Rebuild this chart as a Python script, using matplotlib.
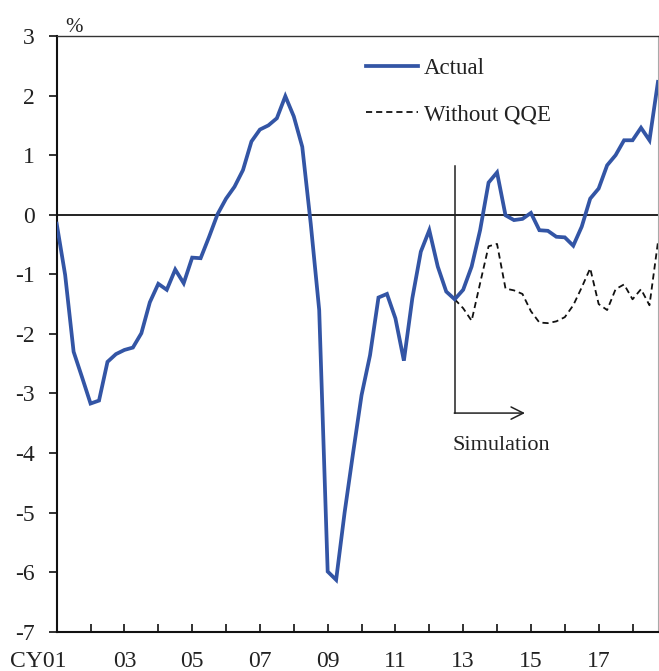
import matplotlib
matplotlib.use("Agg")
import matplotlib.pyplot as plt
import matplotlib.transforms as mtransforms
import numpy as np

plt.rcParams['font.family'] = ['Liberation Serif', 'DejaVu Serif']

# Quarterly data, 2001Q1 .. 2018Q4
actual = [-0.15, -1.01, -2.30, -2.73, -3.17, -3.12, -2.47, -2.34,
          -2.27, -2.23, -1.99, -1.47, -1.16, -1.26, -0.92, -1.15,
          -0.72, -0.73, -0.37, 0.01, 0.27, 0.47, 0.75, 1.23,
          1.43, 1.50, 1.62, 1.99, 1.65, 1.14, -0.15, -1.60,
          -5.99, -6.13, -5.00, -4.00, -3.03, -2.36, -1.39, -1.33,
          -1.74, -2.45, -1.40, -0.62, -0.26, -0.87, -1.29, -1.42,
          -1.26, -0.87, -0.26, 0.54, 0.71, -0.01, -0.09, -0.07,
          0.03, -0.26, -0.27, -0.37, -0.38, -0.52, -0.20, 0.27,
          0.44, 0.83, 1.00, 1.25, 1.25, 1.46, 1.25, 2.23]
sim_start = 47  # 2012Q4
without_qqe = [-1.42, -1.57, -1.78, -1.15, -0.53, -0.49, -1.24, -1.27,
               -1.33, -1.62, -1.81, -1.82, -1.79, -1.72, -1.52, -1.22,
               -0.90, -1.50, -1.60, -1.25, -1.17, -1.42, -1.25, -1.52,
               -0.46]
year_labels = ['CY01', '', '03', '', '05', '', '07', '', '09', '',
               '11', '', '13', '', '15', '', '17', '']
y_ticks = [3, 2, 1, 0, -1, -2, -3, -4, -5, -6, -7]

x_act = np.arange(len(actual))
x_sim = np.arange(sim_start, sim_start + len(without_qqe))

fig = plt.figure(figsize=(6.59, 6.71), dpi=100)
ax = fig.add_axes([0.086, 0.0586, 0.9124, 0.8877])

text_color = '#222222'
blue = '#3355a5'

ax.axhline(0, color='#111111', lw=1.3, zorder=1)
ax.plot(x_act, actual, color=blue, lw=2.7, solid_joinstyle='miter', label='Actual', zorder=3)
ax.plot(x_sim, without_qqe, color='#111111', lw=1.3, ls=(0, (3.4, 2.2)), label='Without QQE', zorder=2)

# simulation marker
ax.plot([sim_start, sim_start], [0.82, -3.33], color='#222222', lw=1.1, zorder=1)
ax.annotate('', xy=(sim_start + 8.3, -3.33), xytext=(sim_start - 0.05, -3.33),
            arrowprops=dict(arrowstyle='->', lw=1.1, color='#222222', mutation_scale=22,
                            shrinkA=0, shrinkB=0))
ax.text(sim_start + 5.5, -3.87, 'Simulation', ha='center', va='center',
        fontsize=16, color=text_color)

ax.set_xlim(0, len(actual) - 1)
ax.set_ylim(-7, 3)
ax.set_yticks(y_ticks)
ax.set_yticklabels([str(v) for v in y_ticks])
ax.set_xticks(np.arange(0, len(actual), 4))
ax.set_xticklabels(year_labels)

ax.tick_params(axis='y', direction='out', length=6, width=1.3, pad=10,
               labelsize=17, colors=text_color)
ax.tick_params(axis='x', direction='in', length=6, width=1.3, pad=14,
               labelsize=17, colors=text_color)
for t in ax.yaxis.get_ticklines():
    t.set_color('#111111')
for t in ax.xaxis.get_ticklines():
    t.set_color('#111111')

# shift CY01 label left
lbl0 = ax.get_xticklabels()[0]
lbl0.set_transform(lbl0.get_transform() + mtransforms.ScaledTranslation(-18/100, 0, fig.dpi_scale_trans))

ax.spines['left'].set_linewidth(1.5)
ax.spines['left'].set_color('#111111')
ax.spines['bottom'].set_linewidth(1.5)
ax.spines['bottom'].set_color('#111111')
ax.spines['top'].set_linewidth(1.0)
ax.spines['top'].set_color('#333333')
ax.spines['right'].set_linewidth(0.8)
ax.spines['right'].set_color('#aaaaaa')

ax.text(0.014, 1.0067, '%', transform=ax.transAxes, fontsize=15, color=text_color,
        ha='left', va='baseline')

leg = ax.legend(loc='center left', bbox_to_anchor=(0.514, 0.9066), frameon=False,
                fontsize=16.5, handlelength=2.3, handletextpad=0.25, labelspacing=1.1,
                borderpad=0, borderaxespad=0)
for t in leg.get_texts():
    t.set_color(text_color)

fig.savefig('out.png', dpi=100)
